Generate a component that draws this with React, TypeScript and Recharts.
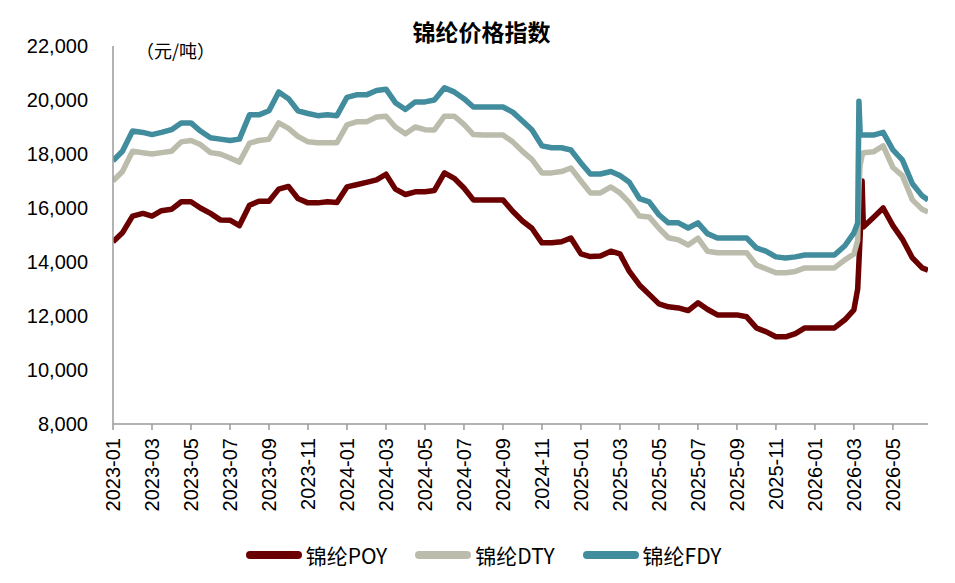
import React from "react";
import { LineChart, Line, XAxis, YAxis } from "recharts";

const dates = [
  "2023-01-01", "2023-01-16", "2023-02-01", "2023-02-16", "2023-03-01", "2023-03-16",
  "2023-04-01", "2023-04-16", "2023-05-01", "2023-05-16", "2023-06-01", "2023-06-16",
  "2023-07-01", "2023-07-16", "2023-08-01", "2023-08-16", "2023-09-01", "2023-09-16",
  "2023-10-01", "2023-10-16", "2023-11-01", "2023-11-16", "2023-12-01", "2023-12-16",
  "2024-01-01", "2024-01-16", "2024-02-01", "2024-02-16", "2024-03-01", "2024-03-16",
  "2024-04-01", "2024-04-16", "2024-05-01", "2024-05-16", "2024-06-01", "2024-06-16",
  "2024-07-01", "2024-07-16", "2024-08-01", "2024-08-16", "2024-09-01", "2024-09-16",
  "2024-10-01", "2024-10-16", "2024-11-01", "2024-11-16", "2024-12-01", "2024-12-16",
  "2025-01-01", "2025-01-16", "2025-02-01", "2025-02-16", "2025-03-01", "2025-03-16",
  "2025-04-01", "2025-04-16", "2025-05-01", "2025-05-16", "2025-06-01", "2025-06-16",
  "2025-07-01", "2025-07-16", "2025-08-01", "2025-08-16", "2025-09-01", "2025-09-16",
  "2025-10-01", "2025-10-16", "2025-11-01", "2025-11-16", "2025-12-01", "2025-12-16",
  "2026-01-01", "2026-01-16", "2026-02-01", "2026-02-16", "2026-03-01", "2026-03-07",
  "2026-03-09", "2026-03-11", "2026-03-14", "2026-03-16", "2026-04-01", "2026-04-16",
  "2026-05-01", "2026-05-16", "2026-06-01", "2026-06-16", "2026-06-25",
];

const poy = [
  14750, 15080, 15700, 15800, 15700, 15900, 15950, 16230, 16230, 16000, 15800, 15560,
  15550, 15350, 16100, 16250, 16250, 16700, 16800, 16350, 16190, 16190, 16230, 16200,
  16780, 16860, 16950, 17040, 17250, 16700, 16500, 16600, 16600, 16650, 17300, 17100,
  16740, 16300, 16300, 16300, 16300, 15880, 15520, 15250, 14710, 14710, 14750, 14890,
  14300, 14200, 14220, 14400, 14300, 13650, 13150, 12800, 12450, 12340, 12300, 12200,
  12490, 12250, 12040, 12040, 12040, 11970, 11560, 11420, 11230, 11230, 11350, 11560,
  11560, 11560, 11560, 11860, 12230, 13000, 14000, 15000, 17000, 15300, 15650, 16000,
  15350, 14850, 14150, 13780, 13700,
];

const dty = [
  17000, 17350, 18100, 18050, 18000, 18050, 18100, 18450, 18500, 18350, 18050, 18000,
  17850, 17700, 18400, 18500, 18550, 19150, 18950, 18650, 18450, 18420, 18420, 18420,
  19080, 19190, 19190, 19370, 19400, 19000, 18750, 19000, 18900, 18890, 19400, 19400,
  19100, 18720, 18700, 18700, 18700, 18450, 18100, 17800, 17300, 17300, 17350, 17480,
  17000, 16560, 16560, 16780, 16560, 16200, 15700, 15670, 15250, 14900, 14820, 14630,
  14880, 14400, 14340, 14340, 14340, 14340, 13890, 13750, 13600, 13600, 13650, 13780,
  13780, 13780, 13780, 14080, 14300, 14800, 16800, 17600, 17950, 18050, 18080, 18300,
  17500, 17200, 16300, 15950, 15850,
];

const fdy = [
  17750, 18100, 18850, 18800, 18720, 18800, 18900, 19150, 19150, 18850, 18600, 18550,
  18500, 18550, 19450, 19450, 19600, 20300, 20050, 19600, 19500, 19420, 19450, 19420,
  20100, 20190, 20190, 20350, 20400, 19900, 19650, 19930, 19930, 20000, 20450, 20300,
  20050, 19740, 19740, 19740, 19740, 19550, 19220, 18900, 18300, 18230, 18230, 18150,
  17670, 17260, 17260, 17350, 17200, 16950, 16350, 16230, 15750, 15450, 15450, 15260,
  15450, 15050, 14890, 14890, 14890, 14890, 14520, 14400, 14190, 14150, 14190, 14260,
  14260, 14260, 14260, 14600, 15080, 15450, 19950, 18700, 18700, 18700, 18700, 18800,
  18150, 17780, 16900, 16450, 16300,
];

const tickLabels = [
  "2023-01", "2023-03", "2023-05", "2023-07", "2023-09", "2023-11",
  "2024-01", "2024-03", "2024-05", "2024-07", "2024-09", "2024-11",
  "2025-01", "2025-03", "2025-05", "2025-07", "2025-09", "2025-11",
  "2026-01", "2026-03", "2026-05",
];

const yTicks = [8000, 10000, 12000, 14000, 16000, 18000, 20000, 22000];

const seriesNames = ["锦纶POY", "锦纶DTY", "锦纶FDY"];
const seriesColors = ["#6b0000", "#bcbcac", "#418c9d"];

// months since 2023-01, fractional within the month
const toMonthIndex = (s: string) => {
  const [y, m, d] = s.split("-").map(Number);
  const dim = new Date(y, m, 0).getDate();
  return (y - 2023) * 12 + (m - 1) + ((d || 1) - 1) / dim;
};

const data = dates.map((d, i) => ({
  t: toMonthIndex(d),
  poy: poy[i],
  dty: dty[i],
  fdy: fdy[i],
}));

const xTicks = tickLabels.map((l) => toMonthIndex(l + "-01"));
const xMax = toMonthIndex(dates[dates.length - 1]);

const FONT = "'Liberation Sans', Arial, 'Noto Sans CJK SC', sans-serif";
const CJK = "'Noto Sans CJK SC', 'Liberation Sans', sans-serif";

const XTick = (props: any) => {
  const { x, y, payload } = props;
  const idx = xTicks.findIndex((v) => Math.abs(v - payload.value) < 1e-6);
  return (
    <text
      x={x}
      y={y}
      transform={`rotate(-90 ${x} ${y})`}
      textAnchor="end"
      dominantBaseline="central"
      fontSize={20}
      fill="#000"
      fontFamily={FONT}
    >
      {tickLabels[idx]}
    </text>
  );
};

const keys = ["poy", "dty", "fdy"];

export default function App() {
  return (
    <div
      style={{
        position: "absolute",
        left: 0,
        top: 0,
        width: 955,
        height: 583,
        background: "#fff",
        fontFamily: FONT,
      }}
    >
      <div
        style={{
          position: "absolute",
          top: 14,
          left: 0,
          width: 963,
          textAlign: "center",
          fontFamily: CJK,
          fontWeight: 700,
          fontSize: 23,
          color: "#000",
        }}
      >
        锦纶价格指数
      </div>
      <div
        style={{
          position: "absolute",
          top: 37,
          left: 136,
          fontFamily: CJK,
          fontSize: 18,
          color: "#000",
        }}
      >
        （元/吨）
      </div>
      <LineChart
        width={955}
        height={583}
        data={data}
        margin={{ top: 46, right: 27, bottom: 0, left: 0 }}
      >
        <XAxis
          dataKey="t"
          type="number"
          domain={[0, xMax]}
          ticks={xTicks}
          interval={0}
          height={159}
          tick={<XTick />}
          tickSize={6}
          tickMargin={8}
          stroke="#9a9a9a"
          strokeWidth={1.5}
          allowDataOverflow
        />
        <YAxis
          type="number"
          domain={[8000, 22000]}
          ticks={yTicks}
          width={113}
          tickLine={false}
          tickSize={0}
          tickMargin={25}
          stroke="#9a9a9a"
          strokeWidth={1.5}
          tick={{ fontSize: 20, fill: "#000", fontFamily: FONT }}
          tickFormatter={(v: number) => v.toLocaleString("en-US")}
        />
        {keys.map((k, i) => (
          <Line
            key={k}
            dataKey={k}
            name={seriesNames[i]}
            type="linear"
            stroke={seriesColors[i]}
            strokeWidth={5.5}
            strokeLinejoin="round"
            dot={false}
            activeDot={false}
            isAnimationActive={false}
          />
        ))}
      </LineChart>
      <div
        style={{
          position: "absolute",
          top: 540,
          left: 0,
          width: 967,
          display: "flex",
          justifyContent: "center",
          alignItems: "center",
          fontFamily: CJK,
          fontSize: 21,
          color: "#000",
        }}
      >
        {seriesNames.map((n, i) => (
          <div
            key={n}
            style={{
              display: "flex",
              alignItems: "center",
              marginRight: i < seriesNames.length - 1 ? 28 : 0,
            }}
          >
            <span
              style={{
                display: "inline-block",
                width: 56,
                height: 8,
                borderRadius: 4,
                background: seriesColors[i],
                marginRight: 4,
              }}
            />
            <span>{n}</span>
          </div>
        ))}
      </div>
    </div>
  );
}
